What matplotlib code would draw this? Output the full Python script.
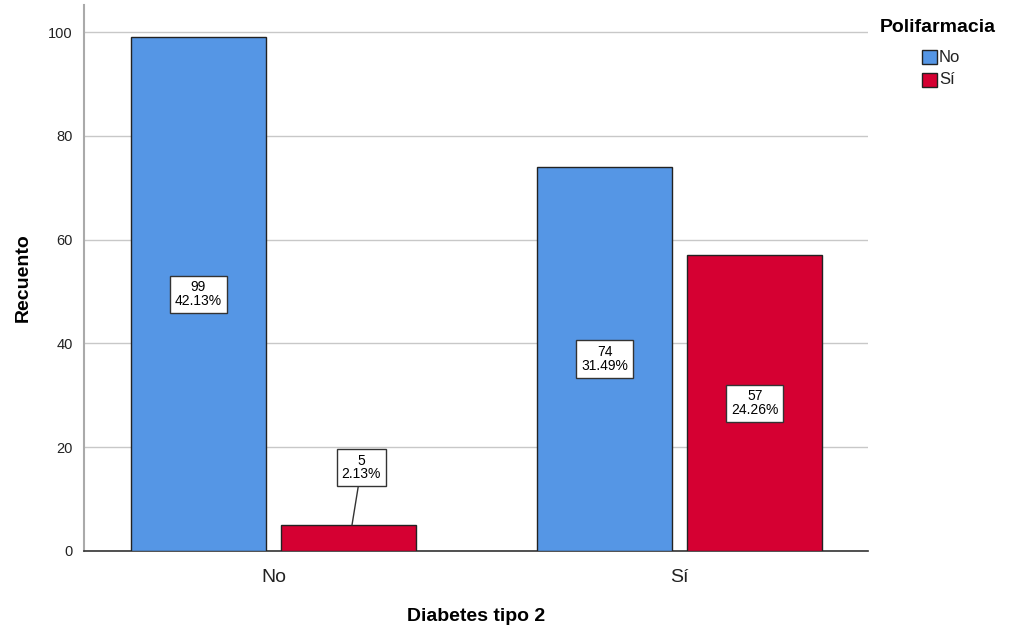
import numpy as np
import matplotlib
matplotlib.use('Agg')
import matplotlib.pyplot as plt
from matplotlib.patches import Rectangle

plt.rcParams['font.family'] = ['Liberation Sans', 'DejaVu Sans']

categories = ['No', 'Sí']
series_names = ['No', 'Sí']
counts_no = [99, 74]
counts_si = [5, 57]
pct_no = ['42.13%', '31.49%']
pct_si = ['2.13%', '24.26%']
colors = ['#5596E5', '#D50032']

fig = plt.figure(figsize=(10.13, 6.31), dpi=100)
ax = fig.add_axes([0.0829, 0.1268, 0.7741, 0.8652])

x = np.arange(len(categories))
w = 0.333
off = 0.185
ax.bar(x - off, counts_no, w, color=colors[0], edgecolor='#222222', linewidth=1, zorder=3)
ax.bar(x + off, counts_si, w, color=colors[1], edgecolor='#222222', linewidth=1, zorder=3)

box = dict(boxstyle='square,pad=0.35', facecolor='white', edgecolor='#333333', linewidth=1)
lab_kw = dict(ha='center', va='center', fontsize=10, linespacing=0.95, bbox=box, zorder=5)
for i in range(len(categories)):
    ax.text(x[i] - off, counts_no[i] / 2, f'{counts_no[i]}\n{pct_no[i]}', **lab_kw)
    if counts_si[i] < 10:
        ax.annotate(f'{counts_si[i]}\n{pct_si[i]}', xy=(x[i] + off + 0.008, counts_si[i]),
                    xytext=(x[i] + off + 0.031, 16.1),
                    arrowprops=dict(arrowstyle='-', color='#333333', lw=1, shrinkA=0, shrinkB=0),
                    **lab_kw)
    else:
        ax.text(x[i] + off, counts_si[i] / 2, f'{counts_si[i]}\n{pct_si[i]}', **lab_kw)

ax.set_xlim(-0.467, 1.464)
ax.set_ylim(0, 105.2)
ax.set_yticks([0, 20, 40, 60, 80, 100])
ax.set_xticks(x)
ax.set_xticklabels(categories, fontsize=14, color='#222222')
ax.tick_params(axis='y', labelsize=10.5, length=0, pad=8, colors='#222222')
ax.tick_params(axis='x', length=0, pad=13)
ax.grid(axis='y', color='#c8c8c8', linewidth=1, zorder=0)
for s in ['top', 'right']:
    ax.spines[s].set_visible(False)
ax.spines['left'].set_color('#aaaaaa')
ax.spines['left'].set_linewidth(1.5)
ax.spines['bottom'].set_color('#333333')
ax.spines['bottom'].set_linewidth(1.2)

ax.set_xlabel('Diabetes tipo 2', fontsize=14, fontweight='bold', labelpad=16)
ax.set_ylabel('Recuento', fontsize=14, fontweight='bold', labelpad=12)

# legend
fig.text(880 / 1013, 1 - 27 / 631, 'Polifarmacia', fontsize=14, fontweight='bold', va='center', ha='left')
for j, name in enumerate(series_names):
    yc = 57 + j * 23
    fig.add_artist(Rectangle((922 / 1013, 1 - (yc + 7) / 631), 15 / 1013, 14 / 631,
                             facecolor=colors[j], edgecolor='#222222', linewidth=1, transform=fig.transFigure))
    fig.text(939 / 1013, 1 - yc / 631, name, fontsize=12, va='center', ha='left', color='#222222')

fig.savefig('out.png', dpi=100)
